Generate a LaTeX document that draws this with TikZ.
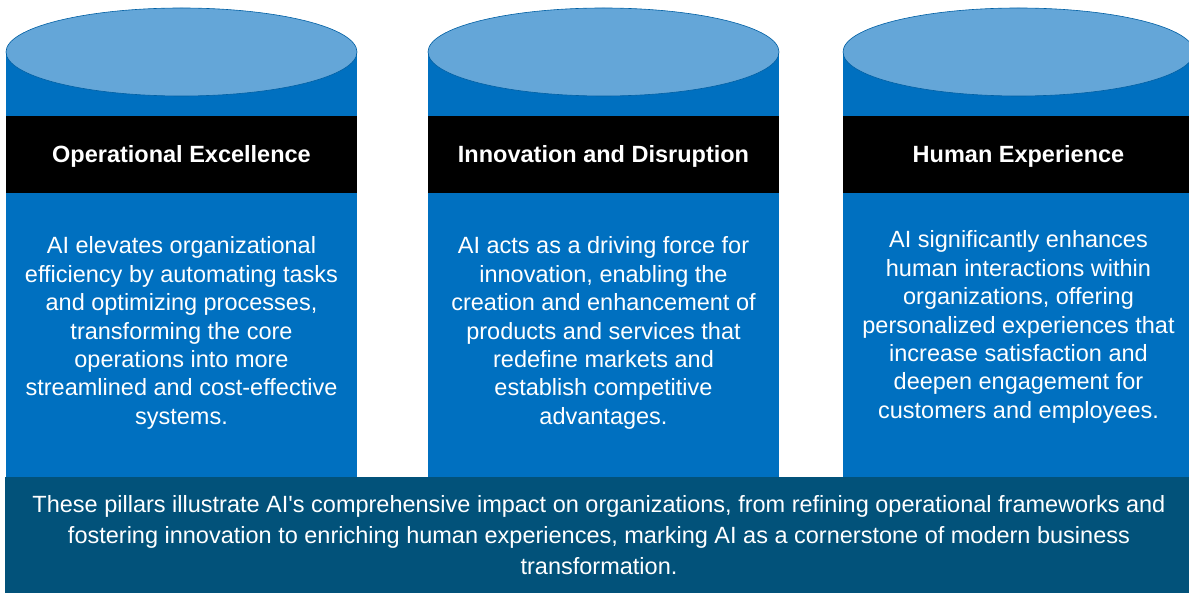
\documentclass[tikz,border=0pt]{standalone}
\usepackage{fontspec}
\setmainfont{Liberation Sans}
\definecolor{pillarblue}{HTML}{0070C0}
\definecolor{pillartop}{HTML}{64A6D8}
\definecolor{baseband}{HTML}{02527A}
\begin{document}
\begin{tikzpicture}[x=1pt,y=-1pt,line join=round,
  head/.style={text=white,font=\fontsize{23.5}{28}\selectfont\bfseries},
  body/.style={text=white,align=center,font=\fontsize{23.5}{28.4}\selectfont}]
\def \w{175.5};
\def \ry{44};
\useasboundingbox (0,0) rectangle (1189,593);
\clip (0,0) rectangle (1189,593);
\foreach \cx/\n/\h/\ty/\t in {
  181.5/ops/{Operational Excellence}/333/{AI elevates organizational\\efficiency by automating tasks\\and optimizing processes,\\transforming the core\\operations into more\\streamlined and cost-effective\\systems.},
  603.5/inno/{Innovation and Disruption}/333/{AI acts as a driving force for\\innovation, enabling the\\creation and enhancement of\\products and services that\\redefine markets and\\establish competitive\\advantages.},
  1018.5/human/{Human Experience}/327/{AI significantly enhances\\human interactions within\\organizations, offering\\personalized experiences that\\increase satisfaction and\\deepen engagement for\\customers and employees.}}{
  \fill[pillarblue] (\cx-\w,52) rectangle (\cx+\w,478);
  \filldraw[fill=pillartop,draw=pillarblue!85!black,line width=0.6pt] (\cx,52) ellipse ({\w} and {\ry});
  \fill[black] (\cx-\w,116) rectangle (\cx+\w,193);
  \node[head] (\n-head) at (\cx,156) {\h};
  \node[body] (\n-text) at (\cx,\ty) {\t};
}
\fill[baseband] (5,477) rectangle (1189,593);
\node[body,font=\fontsize{23.5}{31}\selectfont] (summary) at (599,535) {These pillars illustrate AI\textquotesingle s comprehensive impact on organizations, from refining operational frameworks and\\fostering innovation to enriching human experiences, marking AI as a cornerstone of modern business\\transformation.};
\end{tikzpicture}
\end{document}
